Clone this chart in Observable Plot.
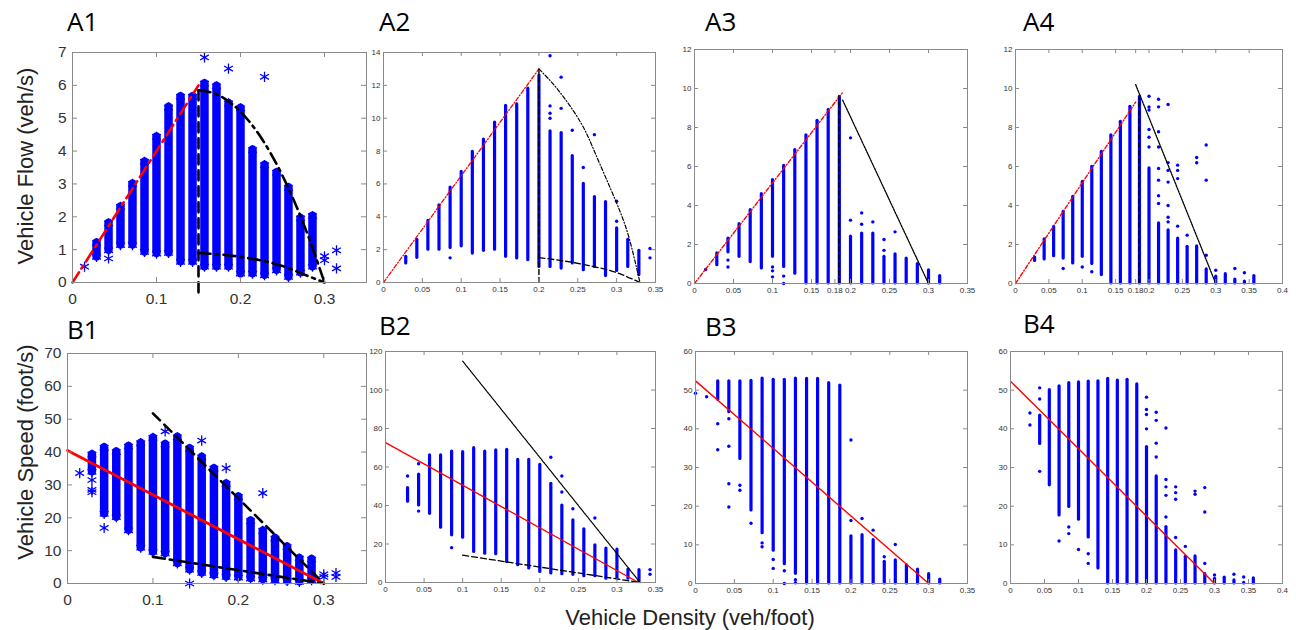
<!DOCTYPE html>
<html><head><meta charset="utf-8">
<script src="https://cdn.jsdelivr.net/npm/d3@7"></script>
<script src="https://cdn.jsdelivr.net/npm/@observablehq/plot@0.6"></script>
<style>
body{margin:0;background:#fff;}
#root{position:relative;width:1296px;height:630px;overflow:hidden;background:#fff;}
#root svg{position:absolute;}
</style></head><body><div id="root"></div>
<script>
// ---- shared density columns (veh/foot) ----
const density = [0.0143,0.0286,0.0429,0.0571,0.0714,0.0857,0.1,0.1143,0.1286,0.1429,0.1571,0.1714,0.1857,0.2,0.2143,0.2286,0.2429,0.2571,0.2714,0.2857,0.3,0.3143,0.3286,0.3429,0.3571];

// ---- tick labels ----
const ticksXBig = [0,0.1,0.2,0.3];
const ticksX35 = [0,0.05,0.1,0.15,0.2,0.25,0.3,0.35];
const ticksX35b = [0,0.05,0.1,0.15,0.18,0.2,0.25,0.3,0.35];
const ticksX40b = [0,0.05,0.1,0.15,0.18,0.2,0.25,0.3,0.35,0.4];
const ticksX40 = [0,0.05,0.1,0.15,0.2,0.25,0.3,0.35,0.4];
const ticksYA1 = [0,1,2,3,4,5,6,7];
const ticksYA2 = [0,2,4,6,8,10,12,14];
const ticksYA3 = [0,2,4,6,8,10,12];
const ticksYB1 = [0,10,20,30,40,50,60,70];
const ticksYB2 = [0,20,40,60,80,100,120];
const ticksYB3 = [0,10,20,30,40,50,60];

// ---- A1: flow, column ranges and single points ----
const a1Lo = [null,0.78,0.98,1.14,1.14,0.93,0.88,0.9,0.63,0.63,0.48,0.48,0.48,0.27,0.27,0.22,0.37,0.17,0.3,0.48,null,null,null,null,null];
const a1Hi = [null,1.2,1.8,2.3,3.0,3.67,4.43,5.33,5.65,5.65,6.05,5.97,5.45,5.3,4.03,3.57,3.34,2.88,1.95,2.02,null,null,null,null,null];
const a1Out = [[0.0143,0.48],[0.0429,0.73],[0.1571,6.85],[0.1857,6.51],[0.2286,6.26],[0.3,0.8],[0.3,0.68],[0.3143,0.98],[0.3143,0.43]];
const a1Red = [[0,0],[0.15,6.0]];
const a1Vert = [[0.15,-0.3],[0.15,5.85]];
const a1Upper = [[0.15,5.85],[0.175,5.69],[0.2,5.2],[0.225,4.39],[0.25,3.25],[0.275,1.79],[0.3,0]];
const a1Lower = [[0.15,0.9],[0.2,0.78],[0.25,0.5],[0.28,0.2],[0.3,0]];

// ---- A2 ----
const a2Lo = [null,1.16,1.5,2.0,2.0,2.1,2.2,1.76,1.93,2.0,1.56,1.46,1.36,0.95,0.95,0.85,1.16,0.75,0.95,0.39,0.7,0.95,0.45,null,null];
const a2Hi = [null,1.56,2.6,3.75,4.7,5.78,6.73,7.95,8.7,9.74,10.75,10.85,11.8,12.6,9.2,9.1,7.7,6.0,5.2,4.9,3.3,2.6,1.93,null,null];
const a2Out = [[0.0857,1.5],[0.2143,13.8],[0.2143,10.75],[0.2143,10.3],[0.2143,10.0],[0.2286,12.5],[0.2286,10.6],[0.2429,9.27],[0.2571,7.0],[0.2714,9.0],[0.3,4.95],[0.3,3.73],[0.3429,2.07],[0.3429,1.5]];
const a2Red = [[0,0],[0.2,13]];
const a2Vert = [[0.2,0],[0.2,13]];
const a2Upper = [[0.2,13],[0.225,11.7],[0.2535,9.76],[0.2728,7.83],[0.2985,5.0],[0.3157,2.76],[0.33,0]];
const a2Lower = [[0.2,1.52],[0.257,1.1],[0.3,0.6],[0.33,0]];

// ---- A3 ----
const a3Lo = [null,0.94,1.6,1.37,1.1,0.77,1.37,0.85,0.5,0,0,0,0,0,0,0,0,0,0,0,0,0,null,null,null];
const a3Hi = [null,1.54,2.3,3.04,3.76,4.58,5.3,6.03,6.84,7.6,8.34,8.9,9.57,2.4,2.56,2.56,1.37,1.5,1.28,1.0,0.68,0.38,null,null,null];
const a3Out = [[0.0143,0.72],[0.0429,1.2],[0.0429,0.85],[0.1,0.85],[0.1,0.65],[0.1,0.34],[0.1143,0.38],[0.1143,0],[0.2,3.25],[0.2,7.47],[0.2143,3.62],[0.2143,3.04],[0.2286,3.16],[0.2429,2.26],[0.2429,1.7],[0.2571,2.65]];
const a3Red = [[0,0],[0.19,9.8]];
const a3Vert = [[0.185,0],[0.185,9.6]];
const a3Cong = [[0.19,9.4],[0.3,0]];

// ---- A4 ----
const a4Lo = [null,1.16,1.23,1.4,1.28,1.03,1.37,1.0,0.43,0,0,0,0,0,0,0,0,0,0,0,0,0,0,0,0];
const a4Hi = [null,1.33,2.26,2.9,3.67,4.44,5.21,5.98,6.75,7.6,8.29,9.06,9.57,5.9,3.08,2.73,2.3,1.88,1.9,0.72,0.35,0.48,0.2,0.1,0.38];
const a4Out = [[0.0714,0.77],[0.1,0.85],[0.1143,0.6],[0.2,9.6],[0.2,9.05],[0.2,8.9],[0.2,7.9],[0.2,7.5],[0.2,7.0],[0.2143,9.45],[0.2143,9.06],[0.2143,7.78],[0.2143,7.0],[0.2143,5.9],[0.2143,5.3],[0.2143,4.5],[0.2143,4.1],[0.2286,9.18],[0.2286,6.2],[0.2286,5.8],[0.2286,5.2],[0.2286,4.0],[0.2286,3.4],[0.2286,3.16],[0.2429,6.07],[0.2429,5.8],[0.2429,5.38],[0.2429,2.94],[0.2571,2.48],[0.2714,6.46],[0.2714,6.19],[0.2857,7.1],[0.2857,5.3],[0.2857,1.45],[0.3,0.68],[0.3286,0.77],[0.3429,0.55]];
const a4Red = [[0,0],[0.18,9.3]];
const a4Vert = [[0.185,0],[0.185,9.5]];
const a4Cong = [[0.18,10.2],[0.3,0]];

// ---- B1: speed ----
const b1Lo = [null,34,21.2,20.2,16.2,10.9,9.6,9.1,6.1,4.2,3.2,2.5,2.0,1.8,1.5,1.2,1.0,0.8,0.5,1.0,null,null,null,null,null];
const b1Hi = [null,39.2,41.3,40,41.7,42.7,44.3,42.3,44.5,41,38.4,34.9,30.3,26.3,19,16,13.7,11.1,7.6,7.3,null,null,null,null,null];
const b1Out = [[0.0143,33.6],[0.0286,31.5],[0.0286,28.5],[0.0286,27.8],[0.0429,16.9],[0.1143,46.3],[0.1429,0],[0.1571,43.5],[0.1857,35.1],[0.2286,27.5],[0.3,2.8],[0.3,2.0],[0.3143,3.2],[0.3143,2.0]];
const b1Red = [[0,40.5],[0.3,0]];
const b1Upper = [[0.1,51.8],[0.3,0]];
const b1Lower = [[0.1,8.1],[0.3,0]];

// ---- B2 ----
const b2Lo = [null,42,40,35.7,28.5,24.5,23.3,15.9,15,14.7,10.7,9,7.3,5.5,4.7,4.3,4.0,3.3,3.3,2.0,2.0,2.0,0.5,null,null];
const b2Hi = [null,49,56,66,66,68,67.7,69.8,68,68.6,68.9,63.7,63.7,61.1,51.3,40,32.3,27.6,19.3,17.6,17.1,6.7,6.4,null,null];
const b2Out = [[0.0286,55.3],[0.0286,43],[0.0429,61.7],[0.0429,37.1],[0.0857,18.1],[0.2143,65.1],[0.2286,55.3],[0.2286,47],[0.2429,38.3],[0.2714,33.5],[0.3429,6.7],[0.3429,4.3]];
const b2Red = [[0,72.7],[0.328,0]];
const b2Upper = [[0.1,115],[0.33,0]];
const b2Lower = [[0.1,14.2],[0.33,0]];

// ---- B3 ----
const b3Lo = [null,47.5,44.3,32.2,18.9,13,8.5,5,2.5,0,0,0,0,0,0,0,0,0,0,0,0,0,null,null,null];
const b3Hi = [null,52.3,52.3,52.3,52.4,53,52.7,52.7,53,52.9,52.9,51.8,51.2,12.2,12.5,11.2,5.6,6,4.7,3.6,2.4,1,null,null,null];
const b3Out = [[0,49.2],[0.0143,48.3],[0.0286,41.3],[0.0286,34.6],[0.0429,42.6],[0.0429,35.5],[0.0429,25.8],[0.0429,19.8],[0.0571,25.4],[0.0571,24.1],[0.0714,15.6],[0.0857,10.5],[0.0857,9.5],[0.1,6.2],[0.1,3.9],[0.1143,3.3],[0.1143,0],[0.1286,1],[0.1286,0.2],[0.2,37.1],[0.2,16.3],[0.2143,16.8],[0.2286,13.8],[0.2429,6.9],[0.2571,10.1]];
const b3Red = [[0,52.4],[0.3,0]];

// ---- B4 ----
const b4Lo = [null,null,36.1,25.4,17.6,19.8,16.5,11.9,3.9,0,0,0,0,0,0,0,0,0,0,0,0,0,0,0,0];
const b4Hi = [null,null,43.4,50,51,51.8,52,52.2,52.3,52.9,52.5,52.7,51.5,35.3,27.7,14.6,8.6,6.9,7,2.4,1.2,1.5,0.8,0.2,1.3];
const b4Out = [[0.0286,44.1],[0.0286,41],[0.0429,50.6],[0.0429,47.7],[0.0429,29],[0.0714,11],[0.0857,14.6],[0.0857,12.9],[0.1,8.8],[0.1143,7.7],[0.1143,5.2],[0.2,48.2],[0.2,45],[0.2,43.7],[0.2,40],[0.2143,44.3],[0.2143,42.2],[0.2143,36.3],[0.2143,32.7],[0.2286,40.2],[0.2286,26.9],[0.2286,25],[0.2286,22.8],[0.2286,17.2],[0.2429,25],[0.2429,23.5],[0.2429,21.8],[0.2429,11.9],[0.2571,9.6],[0.2714,23.9],[0.2714,23.1],[0.2857,24.8],[0.2857,18.5],[0.2857,5.2],[0.3,2.2],[0.3286,2.4],[0.3429,1.7]];
const b4Red = [[0,52.3],[0.3,0]];

// ---- text ----
const panelNames = ["A1","A2","A3","A4","B1","B2","B3","B4"];
const yTitleTop = "Vehicle Flow (veh/s)";
const yTitleBottom = "Vehicle Speed (foot/s)";
const xTitle = "Vehicle Density (veh/foot)";

const BLUE = "#0000ff";
const DD_BIG = "12,5,3,5", DASH_BIG = "10,6";
const DD_SM = "4,2,1,2", DASH_SM = "5,3", DOT_SM = "2,1";

const panels = [
  {L:72,R:366,T:52,B:282, xd:[0,0.35], yd:[0,7], xt:ticksXBig, yt:ticksYA1, lo:a1Lo, hi:a1Hi, out:a1Out, big:true,
   lines:[{d:a1Red,c:"red",w:2.6,dash:DD_BIG},{d:a1Vert,c:"black",w:2.6,dash:DASH_BIG},{d:a1Upper,c:"black",w:2.6,dash:DD_BIG,curve:"monotone-x"},{d:a1Lower,c:"black",w:2.6,dash:DD_BIG,curve:"monotone-x"}]},
  {L:383,R:655,T:52,B:282, xd:[0,0.35], yd:[0,14], xt:ticksX35, yt:ticksYA2, lo:a2Lo, hi:a2Hi, out:a2Out,
   lines:[{d:a2Red,c:"red",w:1.3,dash:DD_SM},{d:a2Vert,c:"black",w:1.4,dash:DASH_SM},{d:a2Upper,c:"black",w:1.2,dash:DD_SM,curve:"natural"},{d:a2Lower,c:"black",w:1.3,dash:"6,3",curve:"monotone-x"}]},
  {L:694,R:967,T:49,B:283, xd:[0,0.35], yd:[0,12], xt:ticksX35b, yt:ticksYA3, lo:a3Lo, hi:a3Hi, out:a3Out,
   lines:[{d:a3Red,c:"red",w:1.4,dash:DD_SM},{d:a3Vert,c:"black",w:1.4,dash:DASH_SM},{d:a3Cong,c:"black",w:1.3,dash:DOT_SM}]},
  {L:1015,R:1282,T:49,B:283, xd:[0,0.4], yd:[0,12], xt:ticksX40b, yt:ticksYA3, lo:a4Lo, hi:a4Hi, out:a4Out,
   lines:[{d:a4Red,c:"red",w:1.4,dash:DD_SM},{d:a4Vert,c:"black",w:1.4,dash:DASH_SM},{d:a4Cong,c:"black",w:1.3,dash:DOT_SM}]},
  {L:67,R:366,T:353,B:583, xd:[0,0.35], yd:[0,70], xt:ticksXBig, yt:ticksYB1, lo:b1Lo, hi:b1Hi, out:b1Out, big:true,
   lines:[{d:b1Red,c:"red",w:2.8},{d:b1Upper,c:"black",w:2.6,dash:DASH_BIG},{d:b1Lower,c:"black",w:2.6,dash:DD_BIG}]},
  {L:385,R:655,T:351,B:582, xd:[0,0.35], yd:[0,120], xt:ticksX35, yt:ticksYB2, lo:b2Lo, hi:b2Hi, out:b2Out,
   lines:[{d:b2Red,c:"red",w:1.4},{d:b2Upper,c:"black",w:1.2,dash:DOT_SM},{d:b2Lower,c:"black",w:1.3,dash:"6,3"}]},
  {L:695,R:967,T:351,B:583, xd:[0,0.35], yd:[0,60], xt:ticksX35, yt:ticksYB3, lo:b3Lo, hi:b3Hi, out:b3Out,
   lines:[{d:b3Red,c:"red",w:1.4}]},
  {L:1010,R:1282,T:351,B:583, xd:[0,0.4], yd:[0,60], xt:ticksX40, yt:ticksYB3, lo:b4Lo, hi:b4Hi, out:b4Out,
   lines:[{d:b4Red,c:"red",w:1.4}]}
];

const root = document.getElementById("root");
const xy = arr => arr.map(([x,y]) => ({x,y}));

function makePanel(c){
  const big = !!c.big;
  const m = big ? {l:44,r:8,t:12,b:32} : {l:28,r:12,t:8,b:18};
  const w = c.R - c.L, h = c.B - c.T;
  const cols = density.map((x,i)=>({x, lo:c.lo[i], hi:c.hi[i]})).filter(d=>d.lo!=null && d.hi!=null);
  const out = xy(c.out);
  const tk = big ? 5 : 4;
  const gray = "#8a8a8a";
  const marks = [
    Plot.ruleX(cols,{x:"x",y1:"lo",y2:"hi",stroke:BLUE,strokeWidth:big?8.5:3.2,strokeLinecap:"round"})
  ];
  if (big) {
    const sym = {x:"x",symbol:"asterisk",r:4.8,stroke:BLUE,strokeWidth:1.3};
    marks.push(Plot.dot(cols,{...sym,y:"hi"}));
    marks.push(Plot.dot(cols,{...sym,y:"lo"}));
    marks.push(Plot.dot(out,{...sym,y:"y"}));
  } else {
    marks.push(Plot.dot(out,{x:"x",y:"y",r:1.7,fill:BLUE}));
  }
  for (const L of c.lines) {
    const o = {x:"x",y:"y",stroke:L.c,strokeWidth:L.w,curve:L.curve||"linear"};
    if (L.dash) o.strokeDasharray = L.dash;
    marks.push(Plot.line(xy(L.d),o));
  }
  marks.push(Plot.frame({stroke:gray}));
  marks.push(Plot.tickX(c.xt,{x:d=>d,insetTop:h-tk,stroke:gray}));
  marks.push(Plot.tickX(c.xt,{x:d=>d,insetBottom:h-tk,stroke:gray}));
  marks.push(Plot.tickY(c.yt,{y:d=>d,insetRight:w-tk,stroke:gray}));
  marks.push(Plot.tickY(c.yt,{y:d=>d,insetLeft:w-tk,stroke:gray}));
  const svg = Plot.plot({
    width: w + m.l + m.r, height: h + m.t + m.b,
    marginLeft: m.l, marginRight: m.r, marginTop: m.t, marginBottom: m.b,
    x: {domain:c.xd, ticks:c.xt, tickSize:0, tickPadding: big?10:4, tickFormat:d=>String(d), label:null},
    y: {domain:c.yd, ticks:c.yt, tickSize:0, tickPadding: big?6:3, tickFormat:d=>String(d), label:null},
    style: {background:"transparent", overflow:"visible", fontSize: big?"15.5px":"8px",
            fontFamily:"'Liberation Sans', Arial, sans-serif", color:"#333", maxWidth:"none"},
    marks
  });
  svg.style.position = "absolute";
  svg.style.left = (c.L - m.l) + "px";
  svg.style.top = (c.T - m.t) + "px";
  root.appendChild(svg);
}
panels.forEach(makePanel);

// overlay with panel names and axis titles
const ov = d3.create("svg").attr("width",1296).attr("height",630)
  .style("position","absolute").style("left","0px").style("top","0px").style("pointer-events","none");
const namePos = [[67,31],[379,31],[705,31],[1023,31],[67,339],[379,335],[705,336],[1023,333]];
panelNames.forEach((n,i)=>{
  ov.append("text").attr("x",namePos[i][0]).attr("y",namePos[i][1])
    .attr("font-family","'Open Sans','Noto Sans',sans-serif").attr("font-size",26).attr("fill","#000").text(n);
});
const titleFont = "'Liberation Sans', Arial, sans-serif";
ov.append("text").attr("transform","translate(33,166) rotate(-90)").attr("text-anchor","middle")
  .attr("font-family",titleFont).attr("font-size",22).attr("fill","#222").text(yTitleTop);
ov.append("text").attr("transform","translate(33,452) rotate(-90)").attr("text-anchor","middle")
  .attr("font-family",titleFont).attr("font-size",22).attr("fill","#222").text(yTitleBottom);
ov.append("text").attr("x",690).attr("y",625).attr("text-anchor","middle")
  .attr("font-family",titleFont).attr("font-size",22).attr("fill","#222").text(xTitle);
root.appendChild(ov.node());
</script></body></html>
